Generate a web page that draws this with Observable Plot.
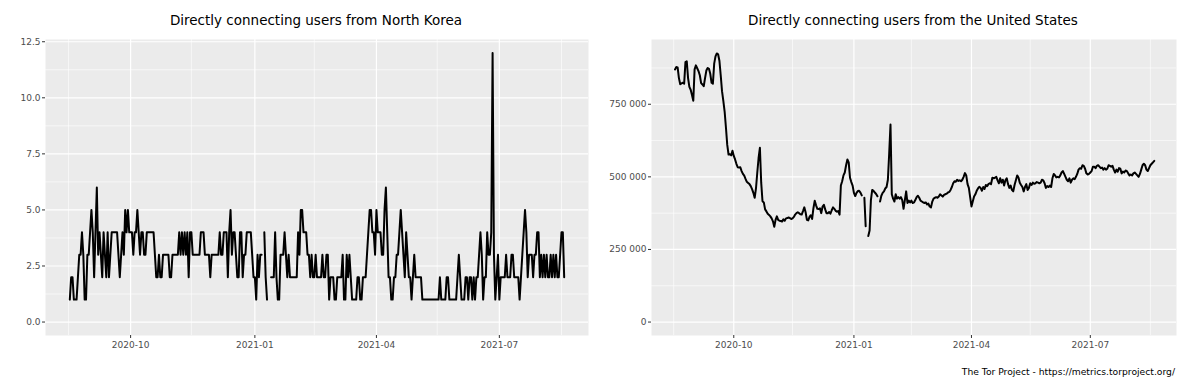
<!DOCTYPE html>
<html><head><meta charset="utf-8">
<script src="https://cdn.jsdelivr.net/npm/d3@7"></script>
<script src="https://cdn.jsdelivr.net/npm/@observablehq/plot@0.6"></script>
<style>
body{margin:0;background:#fff;}
#wrap{position:relative;width:1183px;height:379px;font-family:"DejaVu Sans",sans-serif;overflow:hidden;}
#left,#right{position:absolute;top:0;}
#left{left:0;}
#right{left:592px;}
.title{position:absolute;top:14px;font-size:13.5px;color:#000;white-space:nowrap;transform:translateX(-50%);line-height:1;}
#caption{position:absolute;right:8px;top:367px;font-size:9.2px;color:#000;white-space:nowrap;line-height:1;}
</style></head>
<body>
<div id="wrap">
  <div id="left"></div>
  <div id="right"></div>
  <div class="title" id="t1" style="left:316px">Directly connecting users from North Korea</div>
  <div class="title" id="t2" style="left:913px">Directly connecting users from the United States</div>
  <div id="caption">The Tor Project - https://metrics.torproject.org/</div>
</div>
<script>
// ---- data ----
const startDate = "2020-08-17"; // first day of both daily series
const nkUsers = [1,2,2,1,1,1,2,3,3,4,3,1,1,3,3,4,5,4,2,4,6,3,4,3,2,4,3,2,4,2,3,4,4,4,4,4,3,2,3,4,3,5,4,5,4,4,4,3,4,4,5,4,3,4,4,3,3,4,4,4,4,4,4,3,2,2,3,2,2,3,3,3,3,3,2,2,3,3,3,3,3,4,3,4,3,4,3,4,2,4,4,3,3,3,3,3,3,4,4,4,3,3,3,3,2,3,3,3,3,3,3,4,3,3,4,4,4,2,4,5,3,4,4,3,2,2,4,4,2,3,3,4,4,4,4,3,2,2,1,3,2,3,3,null,4,2,1,null,null,2,2,2,4,2,1,1,3,3,3,4,3,2,3,2,2,2,2,2,2,4,3,5,5,4,4,4,3,3,2,3,2,2,3,2,2,2,2,3,2,2,3,3,1,2,2,2,1,1,2,2,2,2,3,1,1,3,2,3,2,1,1,1,1,2,2,1,1,2,2,2,3,4,5,5,4,4,3,5,4,4,4,3,3,5,6,4,2,2,1,1,2,2,3,3,4,5,4,3,2,4,3,2,2,1,2,3,2,2,2,2,2,1,1,1,1,1,1,1,1,1,1,1,1,1,2,1,1,1,1,2,2,1,1,1,1,1,1,2,3,2,1,1,1,2,2,1,2,2,1,2,1,2,2,3,4,3,1,2,2,4,3,3,4,12,3,1,2,3,1,2,2,2,2,3,2,2,2,3,3,2,2,2,2,1,2,3,4,5,4,2,3,3,3,2,3,3,4,4,2,3,2,3,2,3,2,2,3,2,3,2,3,2,2,3,4,4,2];
// United States, in thousands of users per day
const usUsersK = [870,878,877,840,819,822,824,821,895,898,840,810,800,782,762,870,884,874,864,850,823,818,812,840,866,875,872,855,824,821,890,915,925,922,900,850,795,762,725,670,610,577,578,574,590,572,560,545,533,532,533,520,510,504,493,483,479,475,468,458,445,428,460,515,565,600,480,416,412,388,381,373,369,364,357,347,328,352,364,352,349,348,346,354,349,357,358,360,358,355,357,362,370,375,378,375,371,370,382,395,378,352,350,362,368,355,392,418,402,390,389,392,375,398,404,388,375,375,379,373,385,395,390,383,380,382,370,470,485,505,515,540,560,550,497,482,470,445,434,445,451,452,446,436,null,428,330,null,296,315,420,455,452,446,441,433,null,415,435,445,450,460,465,490,580,680,440,425,415,440,425,430,425,430,420,390,420,450,410,418,412,418,410,412,420,430,435,428,418,415,412,410,412,405,408,398,395,415,425,428,430,428,432,440,436,432,438,440,442,446,448,455,465,478,485,483,490,486,488,485,490,500,513,505,475,462,430,398,415,432,440,452,460,466,462,452,465,458,472,468,475,478,475,497,495,497,500,488,478,495,480,490,470,488,495,475,462,470,455,450,472,488,505,498,480,472,465,450,465,475,455,462,478,472,480,476,478,482,480,478,480,490,488,478,462,468,465,470,465,495,510,505,498,500,498,505,515,520,510,500,490,485,495,480,490,495,492,500,510,525,530,528,540,538,528,512,508,510,515,520,535,535,530,538,540,535,530,532,525,530,525,528,540,538,535,538,525,515,525,518,530,528,512,518,515,522,520,512,505,508,505,512,515,510,505,500,510,525,540,545,540,525,520,530,540,545,550,555];
const xDomain = ["2020-07-30", "2021-09-05"];
const xTicks = ["2020-10-01", "2021-01-01", "2021-04-01", "2021-07-01"];
const xMinor = ["2020-08-16", "2020-11-15", "2021-02-14", "2021-05-16", "2021-08-16"];
const nkYTicks = [0, 2.5, 5, 7.5, 10, 12.5];
const nkYMinor = [1.25, 3.75, 6.25, 8.75, 11.25];
const nkYDomain = [-0.6, 12.6];
const usYTicks = [0, 250000, 500000, 750000];
const usYMinor = [125000, 375000, 625000, 875000];
const usYDomain = [-46300, 973000];

// ---- build ----
const t0 = d3.utcParse("%Y-%m-%d")(startDate);
const dayAt = i => d3.utcDay.offset(t0, i);
const nkData = nkUsers.map((v, i) => ({date: dayAt(i), users: v}));
const usData = usUsersK.map((v, i) => ({date: dayAt(i), users: v == null ? null : v * 1000}));
const P = s => d3.utcParse("%Y-%m-%d")(s);
const xd = xDomain.map(P), xt = xTicks.map(P), xm = xMinor.map(P);
const spaceFmt = d3.formatLocale({decimal: ".", thousands: " ", grouping: [3], currency: ["", ""]}).format(",");

function panel({data, yDomain, yTicks, yMinor, yFormat, width, marginLeft, marginRight}) {
  return Plot.plot({
    width, height: 379,
    marginTop: 39, marginBottom: 44, marginLeft, marginRight,
    style: {fontFamily: "DejaVu Sans, sans-serif", fontSize: "9px", color: "#4d4d4d", background: "transparent", overflow: "visible"},
    x: {type: "utc", domain: xd},
    y: {domain: yDomain},
    marks: [
      Plot.frame({fill: "#ebebeb", stroke: null}),
      Plot.ruleY(yMinor, {stroke: "#fff", strokeWidth: 0.6}),
      Plot.ruleX(xm, {stroke: "#fff", strokeWidth: 0.6}),
      Plot.ruleY(yTicks, {stroke: "#fff", strokeWidth: 1.2}),
      Plot.ruleX(xt, {stroke: "#fff", strokeWidth: 1.2}),
      Plot.line(data, {x: "date", y: "users", stroke: "#000", strokeWidth: 2, curve: "linear"}),
      Plot.axisX({ticks: xt, tickFormat: d3.utcFormat("%Y-%m"), tickSize: 3, tickPadding: 3, stroke: "#333", fill: "#4d4d4d", label: null}),
      Plot.axisY({ticks: yTicks, tickFormat: yFormat, tickSize: 3, tickPadding: 2, stroke: "#333", fill: "#4d4d4d", label: null})
    ]
  });
}

document.getElementById("left").append(panel({
  data: nkData, yDomain: nkYDomain, yTicks: nkYTicks, yMinor: nkYMinor,
  yFormat: d3.format(".1f"), width: 592, marginLeft: 45, marginRight: 4
}));
document.getElementById("right").append(panel({
  data: usData, yDomain: usYDomain, yTicks: usYTicks, yMinor: usYMinor,
  yFormat: spaceFmt, width: 591, marginLeft: 59, marginRight: 7
}));
</script>
</body></html>
